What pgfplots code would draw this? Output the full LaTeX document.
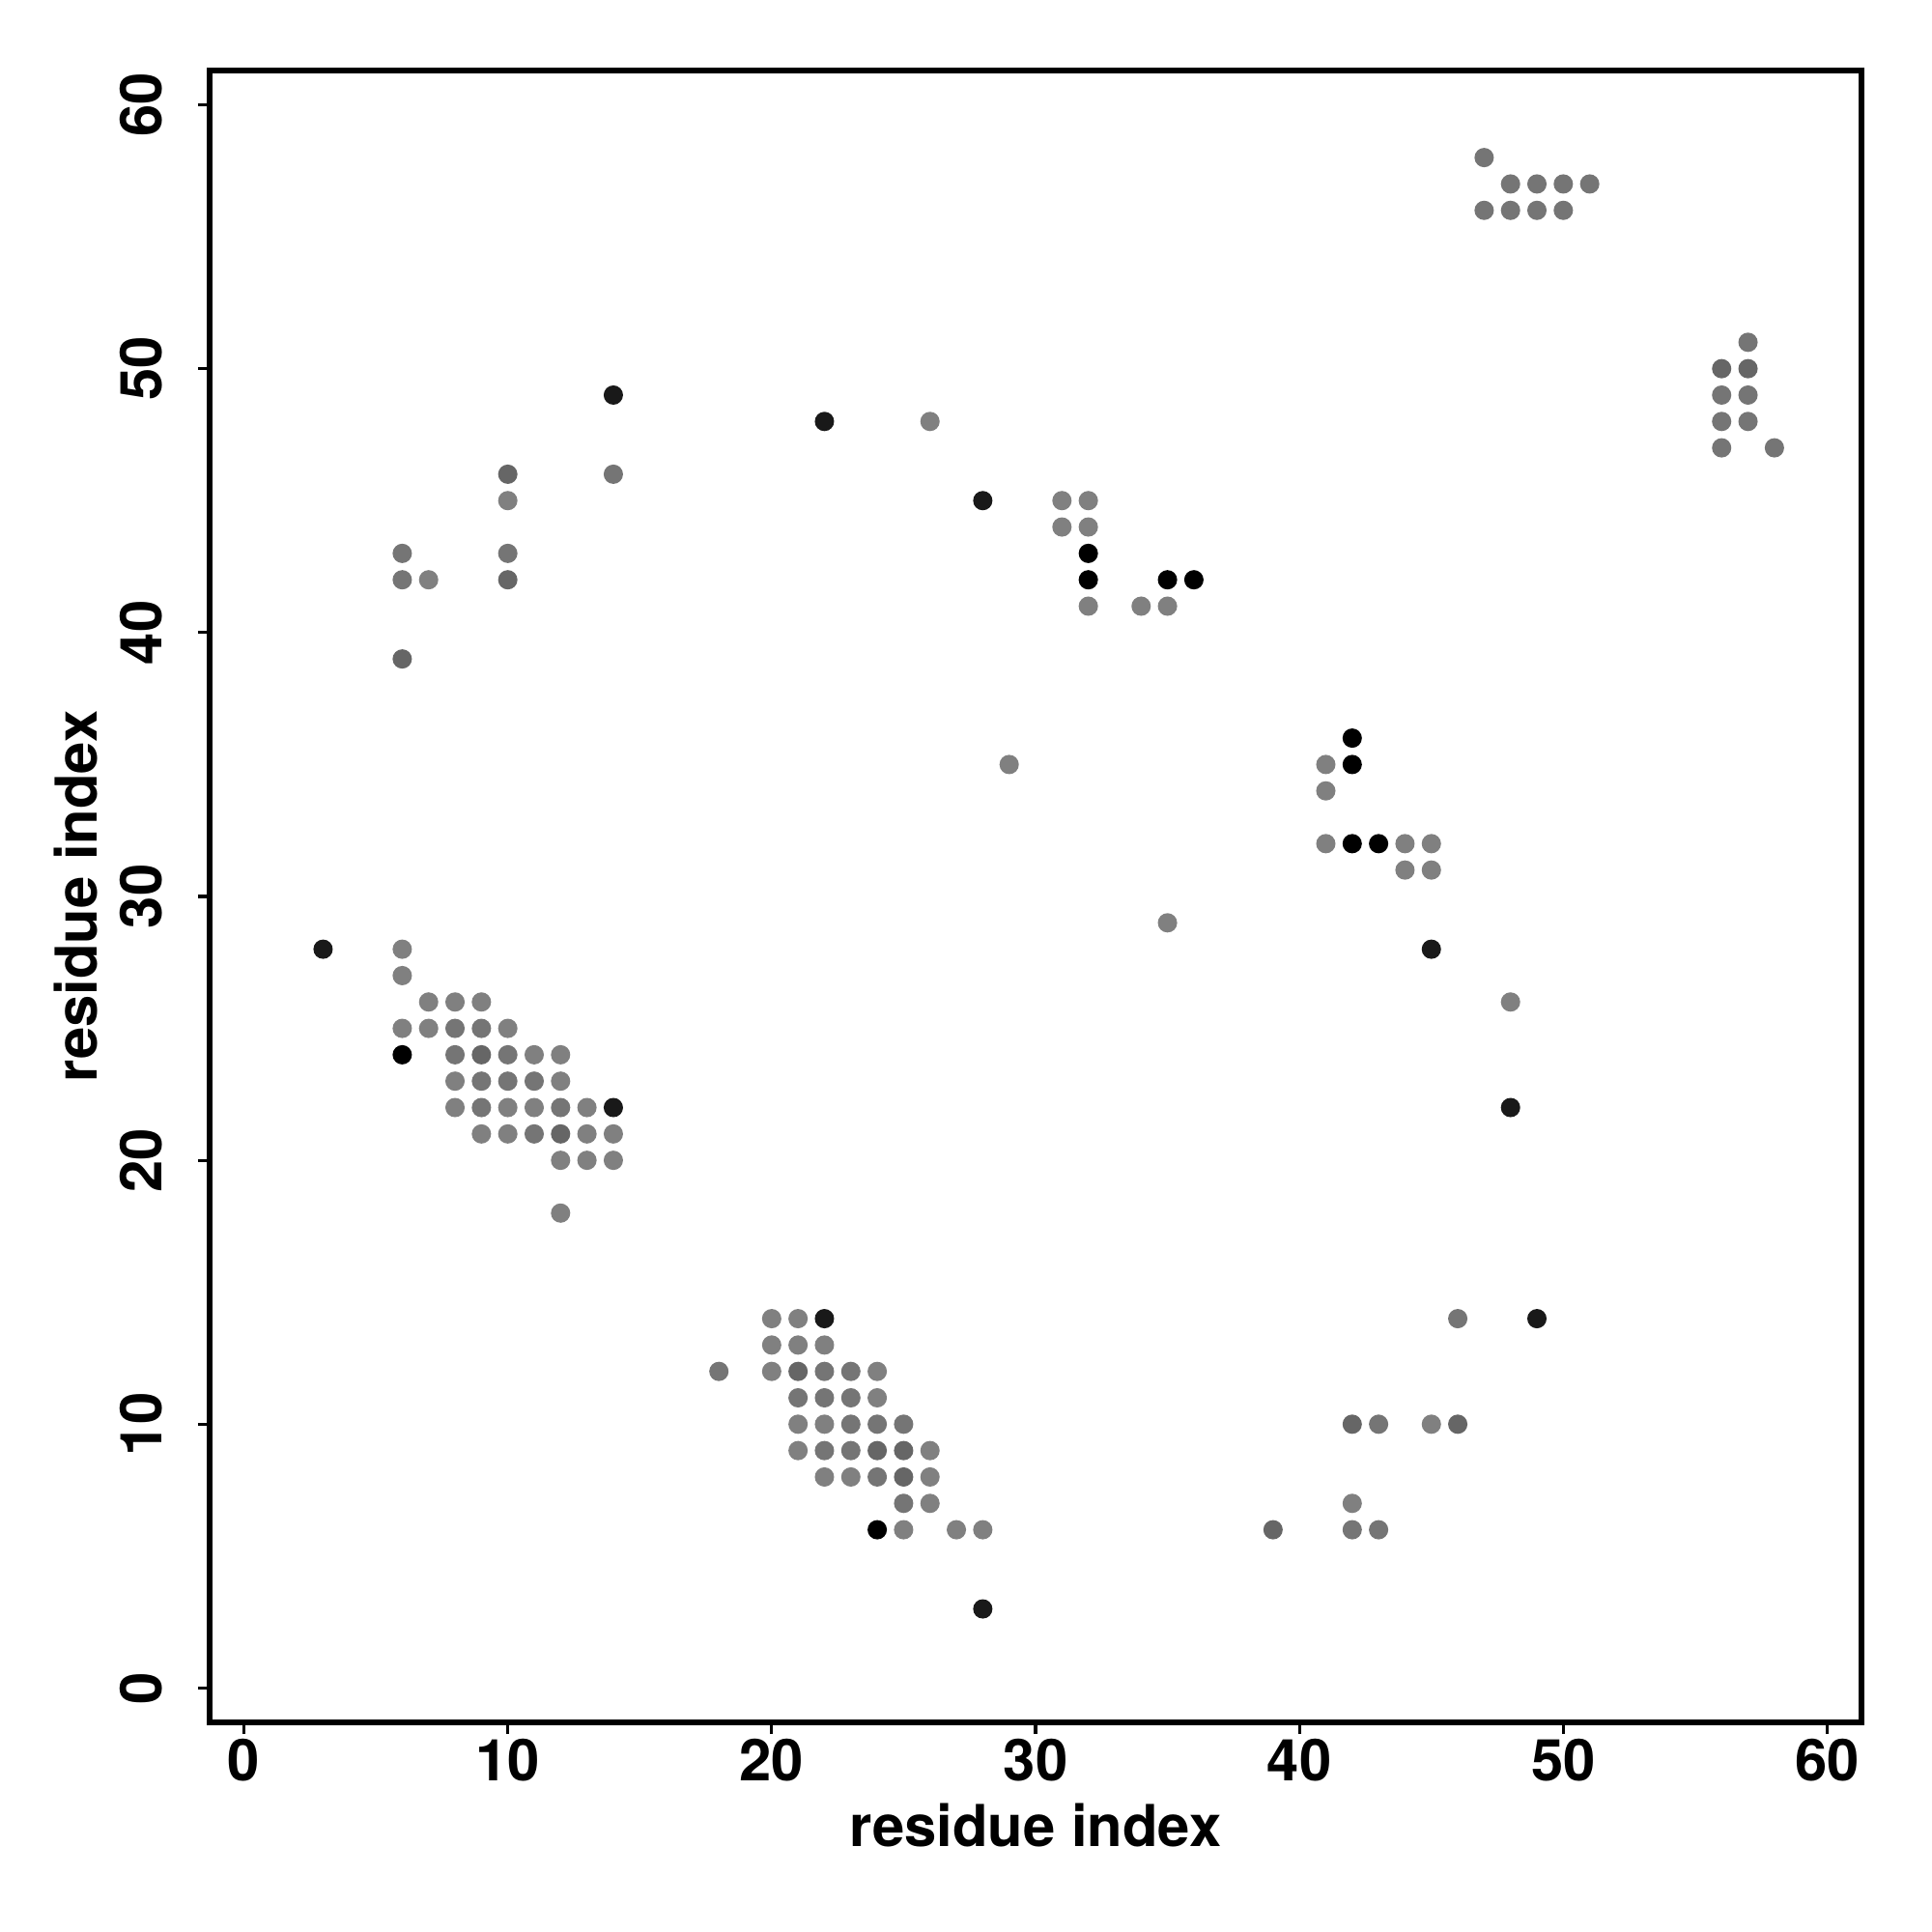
\documentclass[border=0pt]{standalone}
\usepackage{pgfplots}
\pgfplotsset{compat=1.18}
\usepackage{fontspec}
\setmainfont{TeX Gyre Heros}

\definecolor{grayA}{gray}{0.50}
\definecolor{grayB}{gray}{0.46}
\definecolor{grayC}{gray}{0.40}
\definecolor{nearblack}{gray}{0.10}

\pgfplotsset{
	dot/.style={only marks, mark=*, mark size=2.3bp, color=#1,
		mark options={fill=#1, draw=none}},
}

\begin{document}
\begin{tikzpicture}
\begin{axis}[
	name=ax,
	scale only axis,
	width=427.5bp, height=427.5bp,
	xmin=-1.3, xmax=61.3, ymin=-1.3, ymax=61.3,
	xtick={0,10,...,60}, ytick={0,10,...,60},
	xtick pos=bottom, ytick pos=left,
	tick align=outside,
	major tick length=3bp,
	every tick/.style={black, line width=0.8bp},
	axis line style={line width=1.5bp},
	/pgf/number format/assume math mode=true,
	ticklabel style={font=\fontsize{15}{18}\selectfont\bfseries, inner sep=0pt},
	xticklabel style={anchor=north},
	yticklabel style={rotate=90, anchor=south},
	xticklabel shift=1bp,
	yticklabel shift=9bp,
	label style={font=\fontsize{15}{18}\selectfont\bfseries, inner sep=0pt},
	xlabel={residue index},
	ylabel={residue index},
	xlabel style={at={(axis description cs:0.5,-0.0749)}, anchor=base},
	ylabel style={at={(axis description cs:-0.0679,0.5)}, anchor=base},
	]

  % plain gray contacts
  \addplot[dot=grayA] coordinates {
    (6,28) (6,27) (7,26) (8,26) (9,26) (6,25) (7,25) (10,25)
    (11,24) (12,24) (8,23) (12,23) (8,22) (10,22) (11,22) (13,22)
    (9,21) (10,21) (13,21) (14,21) (12,20) (13,20) (14,20) (12,18)
    (20,14) (21,14) (20,13) (21,13) (22,13) (20,12) (24,12) (24,11)
    (21,10) (22,10) (21,9) (26,9) (22,8) (23,8) (26,8) (26,7)
    (25,6) (27,6) (28,6)
    (10,45) (7,42) (26,48) (29,35) (31,45) (32,45) (31,44) (32,44)
    (32,41) (34,41) (35,41) (35,29) (41,35) (41,34) (41,32) (44,32)
    (45,32) (44,31) (45,31) (48,26) (45,10) (42,7)
  };

  % a little darker
  \addplot[dot=grayB] coordinates {
    (6,43) (6,42) (10,43) (14,46) (46,14) (43,10) (42,6) (43,6)
    (47,58) (48,57) (49,57) (50,57) (51,57) (47,56) (48,56) (49,56) (50,56)
    (57,51) (56,49) (57,49) (56,48) (57,48) (56,47) (58,47)
    (8,25) (9,25) (8,24) (10,24) (9,23) (10,23) (11,23) (9,22) (12,22) (11,21)
    (18,12) (22,12) (23,12) (21,11) (22,11) (23,11) (23,10) (24,10) (25,10)
    (22,9) (23,9) (24,8) (25,7)
  };

  % darker still
  \addplot[dot=grayC] coordinates {
    (10,46) (10,42) (6,39) (56,50) (57,50) (46,10) (39,6) (42,10)
    (9,24) (12,21) (21,12) (24,9) (25,9) (25,8)
  };

  % near black
  \addplot[dot=nearblack] coordinates {
    (3,28) (14,22) (22,14) (28,3) (14,49) (22,48) (28,45) (45,28)
    (48,22) (49,14)
  };

  % black
  \addplot[dot=black] coordinates {
    (6,24) (24,6) (32,43) (32,42) (35,42) (36,42) (42,36) (42,35)
    (42,32) (43,32)
  };

\end{axis}
\path (ax.south west) +(-54.25bp,-54.25bp) (ax.north east) +(18.25bp,18.25bp);
\end{tikzpicture}
\end{document}
